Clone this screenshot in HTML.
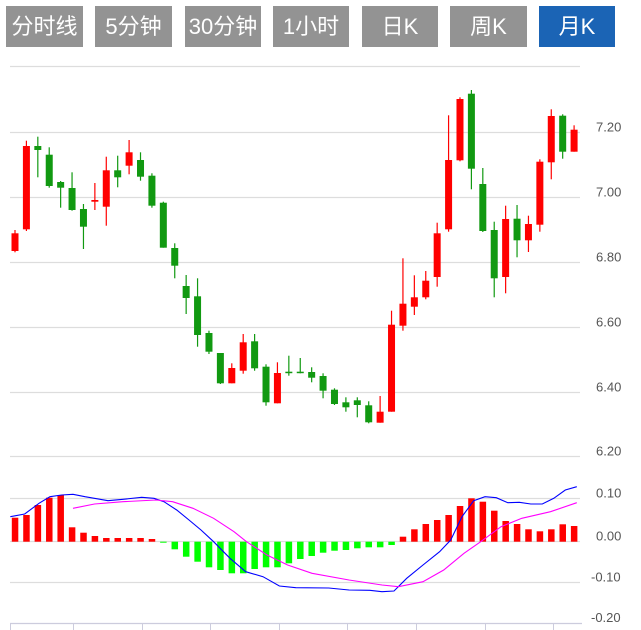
<!DOCTYPE html>
<html><head><meta charset="utf-8"><style>
html,body{margin:0;padding:0;background:#fff;width:641px;height:630px;overflow:hidden}
.b{position:absolute;top:6px;height:41px;background:#939393;color:#fff;font:22px "Liberation Sans","Noto Sans CJK SC",sans-serif;line-height:41px;text-align:center}
svg{position:absolute;left:0;top:0}
</style></head><body>
<div class="b" style="left:6px;width:77px">分时线</div>
<div class="b" style="left:95px;width:77px">5分钟</div>
<div class="b" style="left:185px;width:76px">30分钟</div>
<div class="b" style="left:273px;width:76px">1小时</div>
<div class="b" style="left:362px;width:76px">日K</div>
<div class="b" style="left:450px;width:77px">周K</div>
<div class="b" style="left:539px;width:76px;background:#1b64b5">月K</div>
<svg id="s" width="641" height="630" xmlns="http://www.w3.org/2000/svg"></svg>
<script>
var s='';
function L(x1,y1,x2,y2,c,w){s+='<line x1="'+x1+'" y1="'+y1+'" x2="'+x2+'" y2="'+y2+'" stroke="'+c+'" stroke-width="'+(w||1)+'"/>';}
function T(x,y,t){s+='<text x="'+x+'" y="'+y+'" font-family="Liberation Sans,sans-serif" font-size="13" fill="#555">'+t+'</text>';}
[66.5,132.5,197.5,262.5,327.5,392.5,456.5].forEach(function(y){L(10,y,580,y,'#ddd',1.3);});
var pl=[['7.20',132.5],['7.00',197.5],['6.80',262.5],['6.60',327.5],['6.40',392.5],['6.20',456.5]];
pl.forEach(function(p){T(596,p[1]-1,p[0]);});
[498.5,541.5,582.5].forEach(function(y){L(10,y,580,y,'#ddd',1.3);});
L(10,623.5,582,623.5,'#ccd',1.3);
[10,73,142,210,279,347,416,485,553].forEach(function(x){L(x+.5,623,x+.5,630,'#ccd',1);});
[['0.10',498.5],['0.00',541.5],['-0.10',582.5],['-0.20',623]].forEach(function(p){T(p[0][0]=='-'?591:596,p[1]-1,p[0]);});
var R='#ff0000',G='#119911';
var c=[
[233.3,251,230,252.3,R],[146,229.3,140.7,231,R],[146,150,136.7,177.3,G],[154.7,186,147.3,187.7,G],[182,187.7,181,207.7,G],
[188,210,172.3,210.7,G],[209,226.7,204,249,G],[200,201.7,183,210,R],[170.3,206.7,156.7,225.7,R],[170.3,177.3,155.7,187.3,G],
[152.3,165.7,140,174.3,R],[160,176.7,152.3,180.7,G],[175.7,205.7,173.3,207.7,G],[202.7,247.7,201.7,247.7,G],[248,265.7,243.3,278.3,G],
[286,298,275,314,G],[296.3,335,278.3,346.7,G],[333,351.7,330.7,354,G],[353,383.3,353,384,G],[368,383.3,363.3,383.3,R],
[342.3,370.7,334,373.7,R],[341.3,368.3,334,370.7,G],[366.7,402.3,364.3,405.7,G],[373,403.3,362.3,403.3,R],[371.7,373,355.7,375.7,G],
[371.7,373,358,373.3,G],[372,377.7,367.3,382.3,G],[376,390.7,373.3,398.3,G],[389.7,404,388.3,405,G],[402.3,407.3,397.3,411.7,G],
[400.3,405,397.3,417.3,G],[405.3,422.3,401.3,423.3,G],[411.7,422.7,396,422.7,R],[324.7,411.7,310.7,411.7,R],[303.7,325.7,258.3,330.7,R],
[297.3,306.7,275.3,315,R],[280.7,297.3,271,299.3,R],[233.3,277,222.7,286.7,R],[160,229.3,115.3,231.7,R],[99,160.3,97.3,161.3,R],
[93.7,168.7,90,189.3,G],[184,231,168,232,G],[230,278.3,221.7,297.3,G],[219,277,205.7,293.3,R],[218.7,240.3,205,257.3,G],
[224,240.3,215.7,252,R],[161.7,224.7,159.3,231.7,R],[116,162.3,109.3,179.3,R],[115.7,151.7,114.3,158.7,G],[129.7,151.7,125.3,151.7,R]];
c.forEach(function(d,i){var x=15+11.41*i;
L(x,d[2],x,d[3],d[4],1.2);
var h=Math.max(d[1]-d[0],1.5);
s+='<rect x="'+(x-3.5)+'" y="'+d[0]+'" width="7" height="'+h+'" fill="'+d[4]+'"/>';});
var hb=[517.7,515,505,497.7,495,527.3,532.7,536,538,538,538,538,539,
542.7,549.3,556.7,561.7,567.3,570,573.3,573.3,569,567.3,567.3,563.3,559,556,552.7,550.7,550,548.3,547.3,547.3,545,
536.7,529.3,524,520,515,506,498.3,501.7,510.7,521,524,529.3,531.3,529.3,524.3,526];
hb.forEach(function(y,i){var x=15+11.41*i,z=541.7;
var t=Math.min(y,z),h=Math.abs(y-z);
s+='<rect x="'+(x-3.2)+'" y="'+t+'" width="6.5" height="'+h+'" fill="'+(y<z?'#ff0000':'#00ff00')+'"/>';});
function P(pts,col){s+='<polyline fill="none" stroke="'+col+'" stroke-width="1.1" points="'+pts+'"/>';}
P('10.3,516.7 24.7,514 39,503.3 50,496.7 61.6,495 73,494.3 85,496.7 108,500.7 123,499.3 141.7,497.3 154,498.3 164,501.7 176.7,510 189,520 201,530 213.6,541.7 230,558.3 245.7,571.7 263,576.7 279.4,586 295.8,587.7 328.7,588 349,590 369.8,590.3 382,591.7 394,591 406.7,578.3 423,565 439.6,551.7 450.7,540 462,516.7 473.7,500.7 485,496.7 496.3,497.7 507.8,502.7 519.3,502.3 530.8,504 542.3,504 553.8,498.3 565.3,490 576.8,486.7','#0000ff');
P('73,508.3 94.5,504 123,501.7 156,500 172.6,501.7 193,508.3 213.6,518.3 234,531.7 246.5,541.7 267,555 287.6,565 312,573.3 349,580 382,585 398.5,586.7 423,581.7 443.7,570 464,553.3 480.7,541.7 501,526.7 521.8,518.3 550.5,511.7 576.8,502.7','#ff00ff');
document.getElementById('s').innerHTML=s;
</script>
</body></html>
